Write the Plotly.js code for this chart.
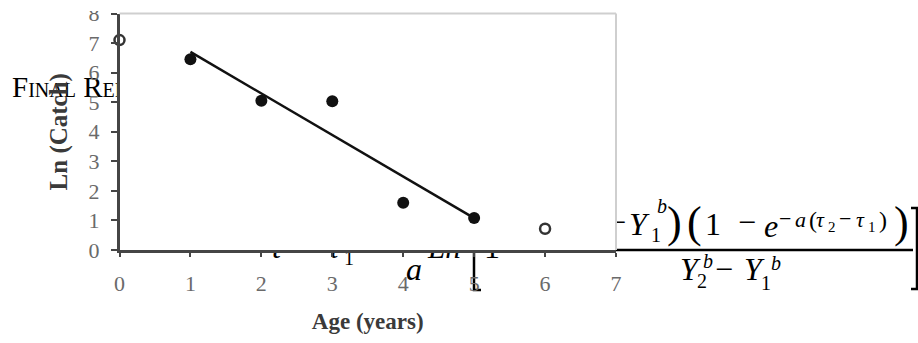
<!DOCTYPE html>
<html>
<head>
<meta charset="utf-8">
<script src="https://cdn.plot.ly/plotly-3.0.1.min.js"></script>
<style>html,body{margin:0;padding:0;background:#fff;}#chart{width:918px;height:343px;}</style>
</head>
<body>
<div id="chart"></div>
<script>
// ---- chart data ----
const fittedAges = [1, 2, 3, 4, 5];
const fittedLnCatch = [6.45, 5.05, 5.03, 1.6, 1.08];
const excludedAges = [0, 6];
const excludedLnCatch = [7.1, 0.72];
const trendAges = [1, 5];
const trendLnCatch = [6.7, 1.08];
const xTickValues = [0, 1, 2, 3, 4, 5, 6, 7];
const yTickValues = [0, 1, 2, 3, 4, 5, 6, 7, 8];
const xTitle = 'Age (years)';
const yTitle = 'Ln (Catch)';

// ---- surrounding page text (layout decoration, pixel positions: text, left, baseline, size, italic) ----
const headerText = 'Final Report';
const eqPieces = [
  ['t', 272, 258, 32, true], ['\u2212', 292, 258, 32, false], ['\u03c4', 328, 258, 32, true],
  ['1', 344, 265, 20, false], ['\u2212', 362, 258, 32, false],
  ['a', 406, 280, 32, true], ['Ln', 428, 258, 31, true], ['1', 484, 258, 32, false],
  ['\u2212', 503, 258, 32, false],
  ['\u2212', 608, 233, 32, false], ['Y', 629, 235, 32, true],
  ['1', 651, 242, 20, false], ['b', 657, 213, 20, true], [')', 667, 237, 44, false],
  ['(', 687, 237, 44, false], ['1', 705, 235, 32, false], ['\u2212', 738, 233, 32, false],
  ['e', 764, 237, 32, true], ['\u2212', 779, 226, 22, false], ['a', 795, 227, 22, true],
  ['(', 809, 228, 24, false], ['\u03c4', 816, 227, 22, true], ['2', 828, 232, 15, false],
  ['\u2212', 839, 226, 22, false], ['\u03c4', 856, 227, 22, true], ['1', 868, 232, 15, false],
  [')', 879, 228, 24, false], [')', 894, 237, 44, false],
  ['Y', 680, 280, 32, true], ['2', 697, 288, 20, false], ['b', 703, 268, 20, true],
  ['\u2212', 715, 280, 32, false], ['Y', 744, 280, 32, true], ['1', 761, 290, 20, false],
  ['b', 771, 270, 20, true]
];

const W = 918, H = 343;
const plotLeft = 119.5, plotRight = 616, plotTop = 13.5, plotBottom = 250;
const serif = 'Liberation Serif, Times New Roman, serif';

const traces = [];
// page text layer (subplot xy, full page, pixel coordinates)
traces.push({
  type: 'scatter', mode: 'text', xaxis: 'x', yaxis: 'y',
  x: [12], y: [97 - 0.25 * 29], text: [headerText], textposition: 'middle right',
  textfont: {family: serif, size: 29, color: '#000', variant: 'small-caps'},
  hoverinfo: 'skip', showlegend: false, cliponaxis: false
});
eqPieces.forEach(p => {
  traces.push({
    type: 'scatter', mode: 'text', xaxis: 'x', yaxis: 'y',
    x: [p[1]], y: [p[2] - 0.25 * p[3]], text: [p[0]], textposition: 'middle right',
    textfont: {family: serif, size: p[3], color: '#000', style: p[4] ? 'italic' : 'normal'},
    hoverinfo: 'skip', showlegend: false, cliponaxis: false
  });
});

// chart (subplot x2y2)
traces.push({
  type: 'scatter', mode: 'lines', xaxis: 'x2', yaxis: 'y2',
  x: trendAges, y: trendLnCatch, line: {color: '#111', width: 2.5},
  showlegend: false, hoverinfo: 'skip'
});
traces.push({
  type: 'scatter', mode: 'markers', xaxis: 'x2', yaxis: 'y2',
  x: fittedAges, y: fittedLnCatch,
  marker: {symbol: 'circle', size: 12, color: '#111'}, showlegend: false
});
traces.push({
  type: 'scatter', mode: 'markers', xaxis: 'x2', yaxis: 'y2',
  x: excludedAges, y: excludedLnCatch, cliponaxis: false,
  marker: {symbol: 'circle-open', size: 10, color: '#333', line: {width: 2.5, color: '#333'}},
  showlegend: false
});

const axisCommon = {
  showgrid: false, zeroline: false, showline: true, linecolor: '#454545', linewidth: 2.5,
  ticks: 'outside', tickcolor: '#454545', tickwidth: 2, fixedrange: true,
  tickfont: {family: serif, size: 22, color: '#6a6a6a'}
};

const layout = {
  width: W, height: H, margin: {l: 0, r: 0, t: 0, b: 0, pad: 0},
  paper_bgcolor: '#ffffff', plot_bgcolor: '#ffffff', showlegend: false,
  xaxis: {domain: [0, 1], range: [0, W], visible: false, fixedrange: true},
  yaxis: {domain: [0, 1], range: [H, 0], visible: false, fixedrange: true},
  xaxis2: Object.assign({}, axisCommon, {
    domain: [plotLeft / W, plotRight / W], range: [0, 7], anchor: 'y2',
    tickvals: xTickValues, ticklen: 4, ticklabelstandoff: 8,
    title: {text: xTitle, standoff: 18, font: {family: serif, size: 23, color: '#3a3a3a', weight: 'bold'}}
  }),
  yaxis2: Object.assign({}, axisCommon, {
    domain: [(H - plotBottom) / H, (H - plotTop) / H], range: [0, 8], anchor: 'x2',
    tickvals: yTickValues, ticklen: 6, ticklabelstandoff: 7,
    title: {text: yTitle, standoff: 14, font: {family: serif, size: 25, color: '#3a3a3a', weight: 'bold'}}
  }),
  shapes: [
    // equation fraction bar and brackets (page layer)
    {type: 'line', xref: 'x', yref: 'y', x0: 557, x1: 913, y0: 250, y1: 250, layer: 'below', line: {color: '#000', width: 2.5}},
    {type: 'path', xref: 'x', yref: 'y', path: 'M 481 207 L 474 207 L 474 290 L 481 290', layer: 'below', line: {color: '#000', width: 2.5}},
    {type: 'path', xref: 'x', yref: 'y', path: 'M 911 208 L 917 208 L 917 289 L 911 289', layer: 'below', line: {color: '#000', width: 2.5}},
    // light plot-area border (top and right)
    {type: 'line', xref: 'x2 domain', yref: 'y2 domain', x0: 0, x1: 1, y0: 1, y1: 1, layer: 'above', line: {color: '#cfcfcf', width: 2}},
    {type: 'line', xref: 'x2 domain', yref: 'y2 domain', x0: 1, x1: 1, y0: 0, y1: 1, layer: 'above', line: {color: '#cfcfcf', width: 2}},
    // cropped top edge of the pasted chart picture
    {type: 'rect', xref: 'x', yref: 'y', x0: 80, x1: 117, y0: 0, y1: 11, layer: 'above', fillcolor: '#ffffff', line: {width: 0}}
  ]
};

Plotly.newPlot('chart', traces, layout, {staticPlot: true, displayModeBar: false});
</script>
</body>
</html>
